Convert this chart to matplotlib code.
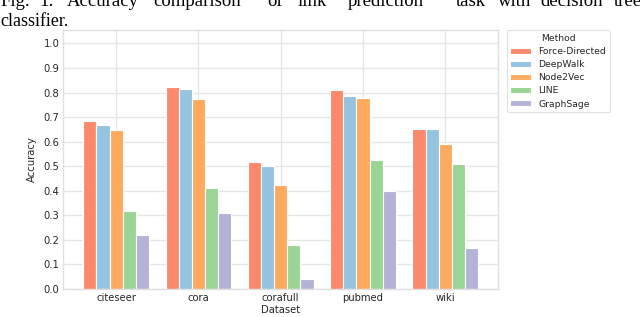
#!/usr/bin/env python3
"""Accuracy comparison of link prediction (decision tree classifier)."""
import matplotlib
import matplotlib.pyplot as plt
import numpy as np

matplotlib.use("Agg")

datasets = ["citeseer", "cora", "corafull", "pubmed", "wiki"]
methods = ["Force-Directed", "DeepWalk", "Node2Vec", "LINE", "GraphSage"]
force_directed = [0.684, 0.821, 0.519, 0.810, 0.653]
deepwalk = [0.666, 0.814, 0.501, 0.788, 0.650]
node2vec = [0.648, 0.774, 0.424, 0.777, 0.589]
line = [0.319, 0.412, 0.180, 0.527, 0.508]
graphsage = [0.218, 0.308, 0.039, 0.398, 0.166]
colors = ["#fc8a6a", "#94c4df", "#fdaa5f", "#9ad595", "#b4b3d7"]

series = [force_directed, deepwalk, node2vec, line, graphsage]

fig = plt.figure(figsize=(6.4, 3.17), dpi=100)
ax = fig.add_axes([0.0992, 0.0883, 0.6788, 0.8171])

x = np.arange(len(datasets))
width = 0.8 / len(methods)
for i, (name, vals) in enumerate(zip(methods, series)):
    offset = (i - (len(methods) - 1) / 2) * width
    ax.bar(x + offset, vals, width, label=name, color=colors[i],
           edgecolor="white", linewidth=0.8, zorder=2)

ax.set_ylim(0, 1.055)
ax.set_yticks(np.arange(0, 1.01, 0.1))
ax.set_yticklabels([f"{v:.1f}" for v in np.arange(0, 1.01, 0.1)])
ax.set_xticks(x)
ax.set_xticklabels(datasets)
ax.set_xlabel("Dataset", fontsize=7.2, labelpad=1, color="#262626")
ax.set_ylabel("Accuracy", fontsize=7.2, labelpad=5, color="#262626")
ax.tick_params(axis="both", length=0, labelsize=7.2, colors="#262626", pad=3)
ax.grid(True, color="#e6e6e6", linewidth=1.0, zorder=0)
ax.set_axisbelow(True)
for sp in ax.spines.values():
    sp.set_color("#e0e0e0")
    sp.set_linewidth(1.0)

leg = ax.legend(title="Method", loc="upper left", bbox_to_anchor=(1.02, 1.0),
                fontsize=6.7, title_fontsize=6.7, frameon=True, borderaxespad=0.0,
                handlelength=2.2, handleheight=0.6, labelspacing=0.45)
leg.get_frame().set_edgecolor("#d9d9d9")
leg.get_frame().set_linewidth(0.8)
for t in leg.get_texts():
    t.set_color("#262626")
leg.get_title().set_color("#262626")

# caption (first line is cropped at the top and justified)
cap_words = [("Fig.", 0), ("1:", 39), ("Accuracy", 67), ("comparison", 153),
             ("of", 267), ("link", 298), ("prediction", 348), ("task", 456),
             ("with", 498), ("decision", 540), ("tree", 614)]
for word, px in cap_words:
    fig.text(px / 640, 1 - 6.5 / 317, word, fontsize=13.5, family="Liberation Serif",
             va="baseline", ha="left")
fig.text(0, 1 - 26.5 / 317, "classifier.", fontsize=13, family="Liberation Serif",
         va="baseline", ha="left")

fig.savefig("out.png", dpi=100)
